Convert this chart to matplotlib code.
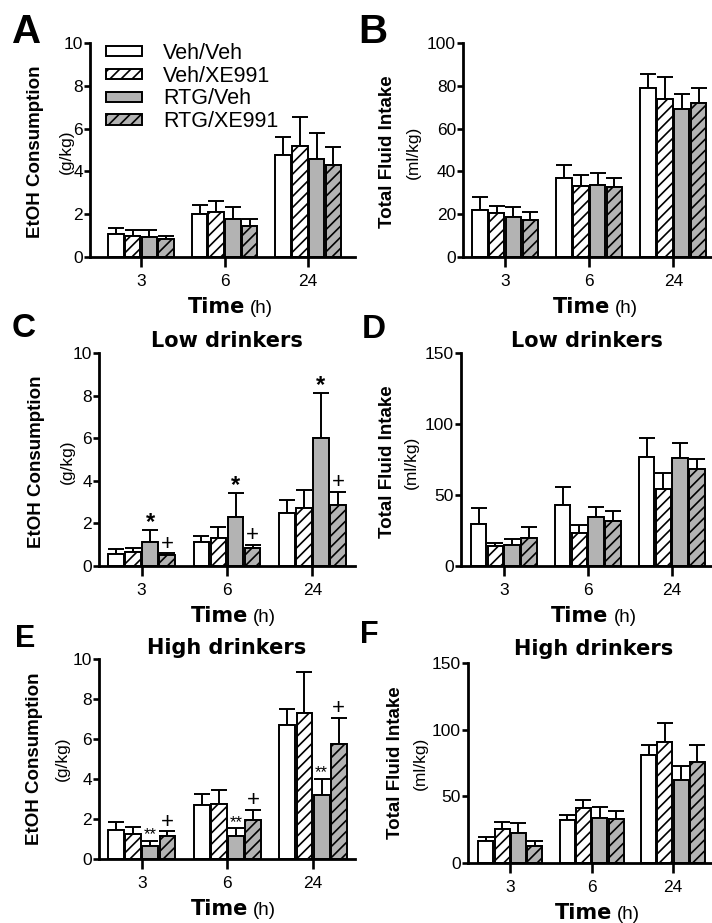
import matplotlib.pyplot as plt
import numpy as np

plt.rcParams['font.family'] = ['Liberation Sans', 'DejaVu Sans']
plt.rcParams['hatch.linewidth'] = 1.2

# x categories and groups
times = ['3', '6', '24']
groups = ['Veh/Veh', 'Veh/XE991', 'RTG/Veh', 'RTG/XE991']

# rows: Veh/Veh, Veh/XE991, RTG/Veh, RTG/XE991 ; cols: 3, 6, 24 h
a_mean = [[1.09, 2.01, 4.78], [1.00, 2.10, 5.20], [0.93, 1.78, 4.60], [0.84, 1.45, 4.31]]
a_sem = [[0.28, 0.44, 0.84], [0.25, 0.53, 1.34], [0.33, 0.57, 1.20], [0.16, 0.31, 0.83]]

b_mean = [[22.1, 36.8, 79.0], [20.4, 33.0, 73.8], [18.8, 33.8, 69.3], [17.1, 32.6, 71.8]]
b_sem = [[5.8, 6.3, 6.7], [3.3, 5.2, 10.5], [4.6, 5.3, 7.0], [3.8, 4.2, 7.0]]

c_mean = [[0.55, 1.11, 2.51], [0.64, 1.32, 2.70], [1.13, 2.29, 6.00], [0.50, 0.85, 2.85]]
c_sem = [[0.23, 0.30, 0.58], [0.22, 0.53, 0.89], [0.56, 1.14, 2.12], [0.10, 0.14, 0.63]]

d_mean = [[29.4, 43.0, 76.7], [13.9, 23.0, 54.1], [15.0, 34.6, 76.2], [20.0, 32.0, 68.0]]
d_sem = [[11.3, 12.7, 13.4], [2.6, 5.7, 11.3], [4.3, 7.0, 10.1], [7.7, 7.0, 7.7]]

e_mean = [[1.47, 2.70, 6.70], [1.23, 2.73, 7.28], [0.67, 1.17, 3.20], [1.13, 1.97, 5.75]]
e_sem = [[0.38, 0.57, 0.80], [0.35, 0.74, 2.05], [0.25, 0.36, 0.80], [0.25, 0.48, 1.32]]

f_mean = [[16.4, 31.9, 81.2], [25.2, 41.6, 91.0], [22.2, 33.6, 62.3], [13.0, 32.9, 75.8]]
f_sem = [[2.8, 4.0, 7.0], [5.4, 5.7, 13.7], [7.7, 8.5, 10.7], [3.2, 6.0, 12.7]]

# significance marks: (group index, text) drawn at every time point
c_marks = [(2, '*'), (3, '+')]
e_marks = [(2, '**'), (3, '+')]

W, H = 712, 923
fig = plt.figure(figsize=(W / 100, H / 100), dpi=100)


def px_axes(l, t, r, b):
    return fig.add_axes([l / W, 1 - b / H, (r - l) / W, (b - t) / H])


def fig_text(x, y, s, **kw):
    fig.text(x / W, 1 - y / H, s, **kw)


faces = ['white', 'white', '#b3b3b3', '#b3b3b3']
hatches = [None, '///', None, '///']
step = 0.2
width = 0.185


def draw_panel(ax, mean, sem, xlim, ymax, yticks, marks=None):
    x = np.arange(len(times))
    for i in range(len(groups)):
        xi = x + (i - 1.5) * step
        ax.bar(xi, mean[i], width, color=faces[i], edgecolor='black',
               linewidth=1.4, hatch=hatches[i], label=groups[i], zorder=2)
        ax.errorbar(xi, mean[i], yerr=[np.zeros(3), sem[i]], fmt='none',
                    ecolor='black', elinewidth=1.4, capsize=5.5, capthick=1.4, zorder=1)
    if marks:
        for gi, txt in marks:
            xi = x + (gi - 1.5) * step
            top = np.array(mean[gi]) + np.array(sem[gi])
            for xx, yy in zip(xi, top):
                if txt == '*':
                    ax.annotate(txt, (xx, yy), xytext=(0, -3), textcoords='offset points',
                                ha='center', va='bottom', fontsize=17, fontweight='bold')
                elif txt == '**':
                    ax.annotate(txt, (xx, yy), xytext=(0, -1), textcoords='offset points',
                                ha='center', va='bottom', fontsize=12)
                else:
                    ax.annotate(txt, (xx, yy), xytext=(0, -1), textcoords='offset points',
                                ha='center', va='bottom', fontsize=16)
    ax.set_xlim(*xlim)
    ax.set_ylim(0, ymax)
    ax.set_yticks(yticks)
    ax.set_xticks(x)
    ax.set_xticklabels(times)
    for s in ['top', 'right']:
        ax.spines[s].set_visible(False)
    for s in ['left', 'bottom']:
        ax.spines[s].set_linewidth(2.0)
    ax.tick_params(axis='y', length=4, width=1.9, pad=1, labelsize=12.5)
    ax.tick_params(axis='x', length=7, width=1.9, pad=5, labelsize=12.5)
    # Time (h) label, bold word + plain unit
    ax.annotate('Time', (1, 0), xycoords=('data', 'axes fraction'), xytext=(15, -40),
                textcoords='offset points', ha='right', va='baseline',
                fontsize=15, fontweight='bold', family='DejaVu Sans')
    ax.annotate('(h)', (1, 0), xycoords=('data', 'axes fraction'), xytext=(18.5, -40),
                textcoords='offset points', ha='left', va='baseline', fontsize=13.5)


axA = px_axes(90, 43, 355, 257)
draw_panel(axA, a_mean, a_sem, (-0.61, 2.56), 10, [0, 2, 4, 6, 8, 10])
axA.legend(loc='upper left', bbox_to_anchor=(0.06, 1.0), frameon=False, fontsize=15.5,
           handlelength=1.7, handleheight=0.36, handletextpad=0.95, labelspacing=0.08,
           borderpad=0, borderaxespad=0)

axB = px_axes(463, 43, 712, 257)
draw_panel(axB, b_mean, b_sem, (-0.5, 2.46), 100, [0, 20, 40, 60, 80, 100])

axC = px_axes(99, 353, 355, 566)
draw_panel(axC, c_mean, c_sem, (-0.5, 2.5), 10, [0, 2, 4, 6, 8, 10], c_marks)

axD = px_axes(461, 353, 712, 566)
draw_panel(axD, d_mean, d_sem, (-0.51, 2.48), 150, [0, 50, 100, 150])

axE = px_axes(99, 659, 355, 859)
draw_panel(axE, e_mean, e_sem, (-0.5, 2.49), 10, [0, 2, 4, 6, 8, 10], e_marks)

axF = px_axes(468, 663, 712, 863)
draw_panel(axF, f_mean, f_sem, (-0.52, 2.48), 150, [0, 50, 100, 150])

# y axis labels
ylab = [(36, 66, 152, 'EtOH Consumption', '(g/kg)'),
        (388, 413, 152, 'Total Fluid Intake', '(ml/kg)'),
        (37, 67, 462, 'EtOH Consumption', '(g/kg)'),
        (387, 411, 462, 'Total Fluid Intake', '(ml/kg)'),
        (35, 62, 759, 'EtOH Consumption', '(g/kg)'),
        (395, 420, 763, 'Total Fluid Intake', '(ml/kg)')]
for x1, x2, yc, t1, t2 in ylab:
    fig_text(x1, yc, t1, rotation=90, ha='center', va='center', fontsize=13.5, fontweight='bold')
    fig_text(x2, yc, t2, rotation=90, ha='center', va='center', fontsize=12.5)

# subgroup titles
fig_text(227, 347, 'Low drinkers', ha='center', va='baseline', fontsize=15,
         fontweight='bold', family='DejaVu Sans')
fig_text(587, 347, 'Low drinkers', ha='center', va='baseline', fontsize=15,
         fontweight='bold', family='DejaVu Sans')
fig_text(227, 654, 'High drinkers', ha='center', va='baseline', fontsize=15,
         fontweight='bold', family='DejaVu Sans')
fig_text(594, 655, 'High drinkers', ha='center', va='baseline', fontsize=15,
         fontweight='bold', family='DejaVu Sans')

# panel letters
for x, y, s, fs in [(12, 43, 'A', 29), (358, 43, 'B', 29), (12, 337, 'C', 24),
                    (362, 338, 'D', 24), (15, 647, 'E', 22), (360, 643, 'F', 22)]:
    fig_text(x, y, s, ha='left', va='baseline', fontsize=fs, fontweight='bold')

fig.savefig('out.png', dpi=100)
